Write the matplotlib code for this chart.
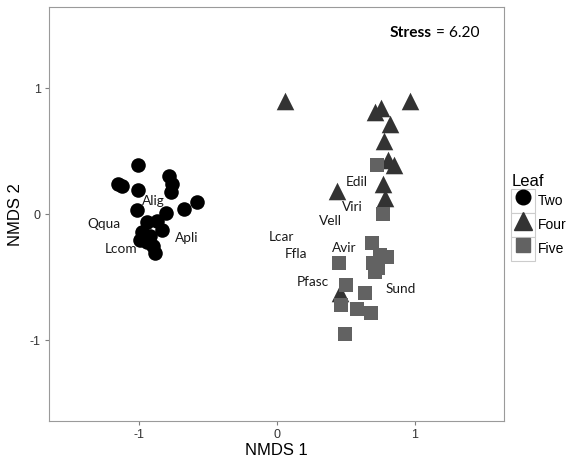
import matplotlib
matplotlib.use("Agg")
from matplotlib import pyplot as plt
from matplotlib.lines import Line2D
from matplotlib.patches import Rectangle
from matplotlib.legend_handler import HandlerTuple

plt.rcParams["font.family"] = ["Liberation Sans", "DejaVu Sans"]

# NMDS scores per leaf group
two_x = [-1.004, -1.156, -1.127, -1.011, -0.785, -0.764, -0.771, -1.018, -0.807, -0.676,
         -0.582, -0.945, -0.873, -0.975, -0.836, -0.945, -0.902, -0.887, -0.924, -0.996]
two_y = [0.390, 0.239, 0.223, 0.191, 0.303, 0.239, 0.175, 0.032, 0.008, 0.040,
         0.096, -0.064, -0.056, -0.143, -0.127, -0.223, -0.255, -0.311, -0.175, -0.207]

four_x = [0.058, 0.960, 0.713, 0.756, 0.822, 0.778, 0.807, 0.844, 0.771, 0.785, 0.436, 0.458]
four_y = [0.900, 0.900, 0.813, 0.845, 0.717, 0.582, 0.430, 0.390, 0.239, 0.127, 0.183, -0.629]

five_x = [0.727, 0.771, 0.691, 0.749, 0.800, 0.698, 0.713, 0.735, 0.451, 0.502,
          0.640, 0.465, 0.582, 0.684, 0.495]
five_y = [0.390, 0.000, -0.231, -0.327, -0.343, -0.390, -0.462, -0.430, -0.390, -0.558,
          -0.622, -0.717, -0.749, -0.781, -0.948]

# species labels
species = ["Alig", "Qqua", "Apli", "Lcom", "Edil", "Viri", "Vell", "Lcar", "Ffla", "Avir", "Pfasc", "Sund"]
sp_x = [-0.895, -1.251, -0.655, -1.127, 0.575, 0.545, 0.385, 0.029, 0.138, 0.487, 0.262, 0.895]
sp_y = [0.104, -0.080, -0.191, -0.279, 0.255, 0.056, -0.056, -0.183, -0.319, -0.271, -0.534, -0.590]

stress = 6.20

fig = plt.figure(figsize=(5.67, 4.61), dpi=100)
ax = fig.add_axes([0.087, 0.0868, 0.802, 0.8973])

ax.scatter(two_x, two_y, s=110, marker="o", color="black", linewidths=0, zorder=3)
ax.scatter(four_x, four_y, s=160, marker="^", color="#333333", linewidths=0, zorder=3)
ax.scatter(five_x, five_y, s=115, marker="s", color="#626262", linewidths=0, zorder=3)

for name, x, y in zip(species, sp_x, sp_y):
    ax.text(x, y, name, ha="center", va="center", fontsize=9.8,
            family=["Lato", "DejaVu Sans"], color="#1a1a1a", zorder=4)

ax.text(1.12, 1.434, "Stress", ha="right", va="center", fontsize=11.2,
        fontweight="bold", family=["Lato", "DejaVu Sans"])
ax.text(1.12, 1.434, " = %.2f" % stress, ha="left", va="center", fontsize=11.2,
        family=["Lato", "DejaVu Sans"])

ax.set_xlim(-1.65, 1.645)
ax.set_ylim(-1.64, 1.64)
ax.set_xticks([-1, 0, 1])
ax.set_yticks([-1, 0, 1])
ax.set_xticklabels(["-1", "0", "1"])
ax.set_yticklabels(["-1", "0", "1"])
ax.tick_params(direction="out", length=3, width=0.8, color="#7f7f7f",
               labelsize=9, labelcolor="#333333", pad=3)
for sp in ax.spines.values():
    sp.set_color("#9a9a9a")
    sp.set_linewidth(0.8)
ax.set_xlabel("NMDS 1", fontsize=12, labelpad=1)
ax.set_ylabel("NMDS 2", fontsize=12, labelpad=5)

# legend with ggplot-like key boxes
def key(marker, color, ms):
    box = Rectangle((0, 0), 1, 1, facecolor="white", edgecolor="#cccccc", linewidth=0.8)
    mk = Line2D([], [], marker=marker, color=color, markersize=ms, linestyle="none")
    return (box, mk)

handles = [key("o", "black", 10.5), key("^", "#333333", 12.5), key("s", "#626262", 10.5)]
leg = ax.legend(handles, ["Two", "Four", "Five"], title="Leaf",
                handler_map={tuple: HandlerTuple(ndivide=1)},
                loc="upper left", bbox_to_anchor=(1.016, 0.598), frameon=False,
                fontsize=10, title_fontsize=12, handlelength=1.73, handleheight=2.28,
                handletextpad=0.2, labelspacing=0.0, borderpad=0.0, borderaxespad=0.0)
leg._legend_box.align = "left"

fig.savefig("out.png", dpi=100)
